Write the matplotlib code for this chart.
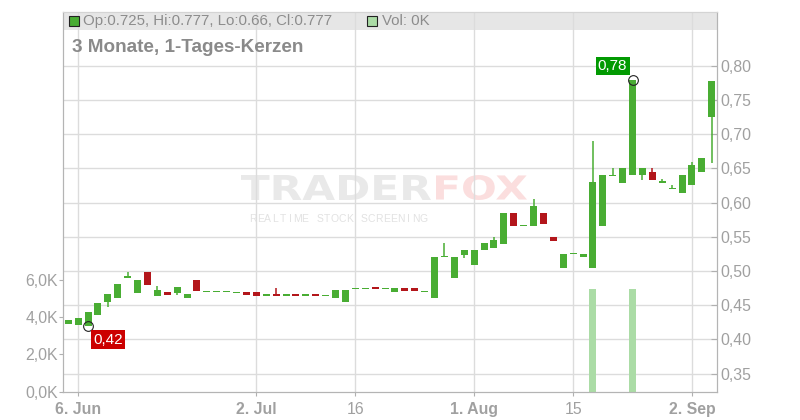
import numpy as np
import pandas as pd
import matplotlib
matplotlib.use("Agg")
import matplotlib.pyplot as plt
from matplotlib.patches import Rectangle, PathPatch
from matplotlib.textpath import TextPath
from matplotlib.font_manager import FontProperties
from matplotlib.transforms import Affine2D

plt.rcParams['font.family'] = ['Liberation Sans', 'DejaVu Sans']

# trading days shown (weekdays 5 Jun - 4 Sep 2024)
days = pd.bdate_range("2024-06-05", "2024-09-04")

opens = [0.423, 0.4215, 0.420, 0.436, 0.454, 0.460, 0.490, 0.468, 0.4985, 0.464,
         0.469, 0.468, 0.461, 0.487, 0.470, 0.470, 0.470, 0.469, 0.469, 0.469,
         0.464, 0.4664, 0.464, 0.4664, 0.464, 0.4664, 0.4645, 0.461, 0.455, 0.474,
         0.474, 0.476, 0.474, 0.469, 0.475, 0.475, 0.470, 0.461, 0.520, 0.490,
         0.524, 0.509, 0.530, 0.534, 0.540, 0.585, 0.566, 0.565, 0.585, 0.550,
         0.505, 0.525, 0.520, 0.505, 0.565, 0.640, 0.629, 0.640, 0.640, 0.644,
         0.630, 0.620, 0.6145, 0.625, 0.644, 0.725]
closes = [0.428, 0.431, 0.440, 0.453, 0.466, 0.481, 0.493, 0.487, 0.480, 0.472,
          0.465, 0.477, 0.466, 0.470, 0.470, 0.470, 0.470, 0.469, 0.4653, 0.464,
          0.4664, 0.464, 0.4664, 0.464, 0.4664, 0.464, 0.4645, 0.472, 0.472, 0.474,
          0.474, 0.474, 0.474, 0.475, 0.4707, 0.4707, 0.470, 0.521, 0.521, 0.521,
          0.531, 0.531, 0.541, 0.545, 0.585, 0.565, 0.566, 0.595, 0.569, 0.544,
          0.525, 0.525, 0.525, 0.630, 0.640, 0.640, 0.650, 0.779, 0.650, 0.6335,
          0.630, 0.620, 0.640, 0.655, 0.665, 0.777]
highs = [0.428, 0.431, 0.440, 0.453, 0.466, 0.481, 0.4985, 0.487, 0.4985, 0.478,
         0.469, 0.477, 0.466, 0.487, 0.470, 0.470, 0.470, 0.469, 0.469, 0.469,
         0.4664, 0.475, 0.4664, 0.4664, 0.4664, 0.4664, 0.4645, 0.472, 0.472, 0.474,
         0.474, 0.476, 0.474, 0.475, 0.475, 0.475, 0.470, 0.521, 0.541, 0.521,
         0.531, 0.531, 0.541, 0.550, 0.585, 0.585, 0.566, 0.605, 0.585, 0.550,
         0.525, 0.525, 0.525, 0.690, 0.640, 0.650, 0.650, 0.779, 0.650, 0.650,
         0.634, 0.625, 0.640, 0.660, 0.665, 0.777]
lows = [0.423, 0.4215, 0.420, 0.436, 0.448, 0.460, 0.490, 0.468, 0.480, 0.464,
        0.465, 0.465, 0.461, 0.470, 0.470, 0.470, 0.470, 0.469, 0.4653, 0.464,
        0.464, 0.464, 0.464, 0.464, 0.464, 0.464, 0.4645, 0.461, 0.455, 0.474,
        0.474, 0.474, 0.474, 0.469, 0.4707, 0.4707, 0.470, 0.461, 0.520, 0.490,
        0.519, 0.509, 0.530, 0.534, 0.540, 0.565, 0.566, 0.565, 0.569, 0.544,
        0.505, 0.525, 0.520, 0.505, 0.565, 0.640, 0.629, 0.640, 0.633, 0.6335,
        0.630, 0.620, 0.6145, 0.625, 0.644, 0.658]
volumes = [0] * 66
volumes[53] = 5500
volumes[57] = 5500

tick_pos = [1, 19, 29, 41, 51, 63]
tick_labels = ["6. Jun", "2. Jul", "16", "1. Aug", "15", "2. Sep"]
tick_bold = [True, True, False, True, False, True]
price_ticks = [0.35, 0.40, 0.45, 0.50, 0.55, 0.60, 0.65, 0.70, 0.75, 0.80]
vol_ticks = [0, 2000, 4000, 6000]

green = "#49ad33"
red = "#b3161b"
gray_txt = "#a0a0a0"
grid_c = "#dcdcdc"

fig = plt.figure(figsize=(8, 4.2), dpi=100)
fig.patch.set_facecolor("white")
ax = fig.add_axes([63.3 / 800, 1 - 391.7 / 420, (716.7 - 63.3) / 800, 380 / 420])
ax.patch.set_visible(False)
axv = ax.twinx()

# header strip
ax.add_patch(Rectangle((0, 1 - 18.5 / 380), 1, 18.5 / 380, transform=ax.transAxes,
                       facecolor="#e6e6e6", edgecolor="none", zorder=0.2))


# watermark, stretched into a box given in pixels (x0, x1, ytop, ybottom)
def stretched_word(word, x0, x1, ytop, ybot, color):
    tp = TextPath((0, 0), word, size=10,
                  prop=FontProperties(family="DejaVu Sans", weight="bold"))
    ext = tp.get_extents()
    sx = (x1 - x0) / ext.width
    sy = (ybot - ytop) / ext.height
    tr = (Affine2D().translate(-ext.x0, -ext.y0).scale(sx, sy)
          .translate(x0, 420 - ybot).scale(1 / 800, 1 / 420) + fig.transFigure)
    ax.add_patch(PathPatch(tp, transform=tr, facecolor=color, edgecolor="none",
                           zorder=0.1))


stretched_word("TRADER", 241, 431, 175, 200, "#e9e9e9")
stretched_word("FOX", 436, 527, 175, 200, "#fbdede")
sub = "REALTIME STOCK SCREENING"
for k, ch in enumerate(sub):
    ax.text((253 + 7.4 * k) / 800, 1 - 219 / 420, ch, transform=fig.transFigure,
            ha="center", va="center", fontsize=7.5, color="#e2e2e2", zorder=0.1)

x = np.arange(len(opens))
o = np.array(opens)
c = np.array(closes)
cols = [green if cc >= oo else red for oo, cc in zip(o, c)]
bottoms = np.minimum(o, c)
heights = np.abs(c - o)
flat = heights < 0.0016
bottoms = np.where(flat, (o + c) / 2 - 0.0008, bottoms)
heights = np.where(flat, 0.0016, heights)

ax.vlines(x, lows, highs, colors=cols, linewidth=1.1, zorder=2)
ax.bar(x, heights, 0.7, bottom=bottoms, color=cols, zorder=3, linewidth=0)

# high / low markers
hi = int(np.argmax(highs))
lo = int(np.argmin(lows))
for idx, val, bg, off in [(hi, highs[hi], "#029a02", (-20, 14)),
                          (lo, lows[lo], "#cc0000", (20, -14))]:
    ax.plot([idx], [val], marker="o", ms=7, mfc="none", mec="#222222", mew=0.8, zorder=5)
    ax.annotate(f"{val:.2f}".replace(".", ","), (idx, val), xytext=off,
                textcoords="offset pixels", ha="center", va="center",
                fontsize=11, color="white", zorder=6,
                bbox=dict(boxstyle="square,pad=0.15", fc=bg, ec="none"))

ax.set_xlim(-0.5, 65.5)
ax.set_ylim(0.3235, 0.879)
ax.yaxis.tick_right()
ax.set_yticks(price_ticks)
ax.set_yticklabels([f"{t:.2f}".replace(".", ",") for t in price_ticks])
ax.set_xticks(tick_pos)
ax.set_xticklabels(tick_labels)
for lab, b in zip(ax.get_xticklabels(), tick_bold):
    if b:
        lab.set_fontweight("bold")
ax.grid(True, color=grid_c, linewidth=1)
ax.set_axisbelow(True)
ax.tick_params(axis="y", which="both", direction="in", length=4, pad=2.4,
               colors="#b0b0b0", labelcolor=gray_txt, labelsize=11.4,
               left=False, right=True, labelleft=False, labelright=True)
ax.tick_params(axis="x", direction="out", length=3, pad=4.5, colors="#b0b0b0",
               labelcolor=gray_txt, labelsize=11.4)

# volume on left axis
axv.bar(x, volumes, 0.7, color="#abdca6", zorder=2, linewidth=0)
axv.set_ylim(0, 20400)
axv.set_yticks(vol_ticks)
axv.set_yticklabels([f"{v / 1000:.1f}K".replace(".", ",") for v in vol_ticks])
axv.yaxis.tick_left()
axv.tick_params(axis="y", direction="out", length=3, pad=0.8, colors="#b0b0b0",
                labelcolor=gray_txt, labelsize=11.4, right=False, labelright=False)

for a in (ax, axv):
    for s in ("left", "bottom", "right"):
        a.spines[s].set_color("#b4b4b4")
    a.spines["top"].set_color("#d4d4d4")

# header texts
fig.patches.append(Rectangle((68.5 / 800, 1 - 26 / 420), 10 / 800, 10 / 420,
                             transform=fig.transFigure, facecolor=green,
                             edgecolor="#222222", linewidth=0.8))
fig.patches.append(Rectangle((367 / 800, 1 - 26 / 420), 10 / 800, 10 / 420,
                             transform=fig.transFigure, facecolor="#abdca6",
                             edgecolor="#222222", linewidth=0.8))
fig.text(83 / 800, 1 - 21 / 420, "Op:0.725, Hi:0.777, Lo:0.66, Cl:0.777",
         fontsize=10.8, color="#8c8c8c", va="center", ha="left")
fig.text(382 / 800, 1 - 21 / 420, "Vol: 0K",
         fontsize=10.8, color="#8c8c8c", va="center", ha="left")
fig.text(72 / 800, 1 - 47.5 / 420, "3 Monate, 1-Tages-Kerzen",
         fontsize=13.6, fontweight="bold", color="#8a8a8a", va="center", ha="left")

fig.savefig("out.png", dpi=100)
